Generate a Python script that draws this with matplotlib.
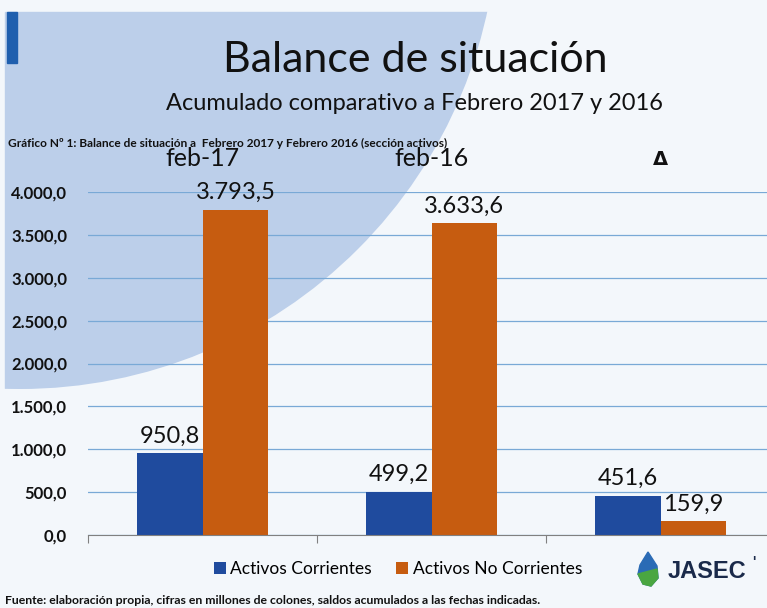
import matplotlib.pyplot as plt
from matplotlib.patches import Rectangle, Circle, Polygon
import numpy as np

categories = ["feb-17", "feb-16", "Δ"]
corrientes = [950.8, 499.2, 451.6]
no_corrientes = [3793.5, 3633.6, 159.9]
yticks = [0, 500, 1000, 1500, 2000, 2500, 3000, 3500, 4000]
ytick_labels = ["0,0", "500,0", "1.000,0", "1.500,0", "2.000,0", "2.500,0",
                "3.000,0", "3.500,0", "4.000,0"]
corr_labels = ["950,8", "499,2", "451,6"]
nocorr_labels = ["3.793,5", "3.633,6", "159,9"]

BLUE = "#1f4b9e"
ORANGE = "#c65c10"
FONT = "Lato"

fig = plt.figure(figsize=(7.67, 6.08), dpi=100, facecolor="#f3f7fb")

# background decoration: light blue panel clipped by a big circle
W, H = 767, 608
bg = fig.add_axes([0, 0, 1, 1], zorder=-5)
bg.set_xlim(0, W)
bg.set_ylim(H, 0)
bg.axis("off")
panel = Rectangle((5, 12), 700, 600, color="#bccfea", zorder=0)
bg.add_patch(panel)
clip = Circle((20, -89), 478, transform=bg.transData)
panel.set_clip_path(clip)
bg.add_patch(Rectangle((7, 12), 10, 51, color="#1f5fae", zorder=1))

fig.text(415 / W, 1 - 60 / H, "Balance de situación", ha="center", va="center",
         fontsize=31, family=FONT, color="#111111")
fig.text(415 / W, 1 - 104 / H, "Acumulado comparativo a Febrero 2017 y 2016",
         ha="center", va="center", fontsize=17, family=FONT, color="#111111")
fig.text(8 / W, 1 - 143 / H,
         "Gráfico Nº 1: Balance de situación a  Febrero 2017 y Febrero 2016 (sección activos)",
         ha="left", va="center", fontsize=8.6, family=FONT, weight="bold",
         color="#111111")

ax = fig.add_axes([88 / W, 1 - 535 / H, (W - 88) / W, (535 - 192) / H])
ax.patch.set_alpha(0)
x = np.arange(len(categories))
bw = 0.288
b1 = ax.bar(x - bw / 2, corrientes, bw, color=BLUE, zorder=3,
            label="Activos Corrientes")
b2 = ax.bar(x + bw / 2, no_corrientes, bw, color=ORANGE, zorder=3,
            label="Activos No Corrientes")
for bars, labs in ((b1, corr_labels), (b2, nocorr_labels)):
    for bar, lab in zip(bars, labs):
        ax.annotate(lab, (bar.get_x() + bar.get_width() / 2, bar.get_height()),
                    xytext=(0, 5), textcoords="offset points", ha="center",
                    va="bottom", fontsize=17, family=FONT, color="#111111")

ax.set_xlim(-0.5, -0.5 + (W - 88) / 229)
ax.set_ylim(0, 4000)
ax.set_yticks(yticks)
ax.set_yticklabels(ytick_labels, fontsize=12, family=FONT, weight="bold",
                   color="#111111")
ax.tick_params(axis="y", length=0, pad=15)
ax.set_xticks([-0.5, 0.5, 1.5])
ax.set_xticklabels([])
ax.tick_params(axis="x", length=6, direction="out", color="#808080")
ax.yaxis.grid(True, color="#79a9d6", linewidth=0.9, zorder=0)
for s in ("top", "right", "left"):
    ax.spines[s].set_visible(False)
ax.spines["bottom"].set_color("#808080")
ax.spines["bottom"].set_zorder(4)

for i, c in enumerate(categories):
    if c == "Δ":
        ax.text(i, 4380, c, ha="center", va="center", fontsize=14,
                family="DejaVu Sans", weight="bold", color="#111111",
                clip_on=False)
    else:
        ax.text(i, 4390, c, ha="center", va="center", fontsize=18,
                family=FONT, color="#111111", clip_on=False)

leg = fig.legend(handles=[b1, b2], loc="center", bbox_to_anchor=(398 / W, 1 - 569 / H),
                 ncol=2, frameon=False, handlelength=0.7, handleheight=0.7,
                 handletextpad=0.25, columnspacing=1.4,
                 prop={"family": FONT, "size": 12.5})

# JASEC logo
drop = Polygon([[648, 552], [640, 565], [638, 574], [643, 584], [651, 586],
                [658, 578], [657, 566]], closed=True, color="#2a6bb5",
               transform=bg.transData)
bg.add_patch(drop)
bg.add_patch(Polygon([[638, 574], [643, 584], [651, 586], [658, 578], [657, 569]],
                     closed=True, color="#4aa640"))
fig.text(668 / W, 1 - 572 / H, "JASEC", ha="left", va="center", fontsize=17,
         family="Liberation Sans", weight="bold", color="#1a2a4a")
fig.text(752 / W, 1 - 562 / H, "'", ha="left", va="center", fontsize=10,
         family="Liberation Sans", weight="bold", color="#1a2a4a")

fig.text(5 / W, 1 - 600 / H,
         "Fuente: elaboración propia, cifras en millones de colones, saldos acumulados a las fechas indicadas.",
         ha="left", va="center", fontsize=8.8, family=FONT, weight="bold",
         color="#111111")

fig.savefig("out.png", dpi=100, facecolor=fig.get_facecolor())
